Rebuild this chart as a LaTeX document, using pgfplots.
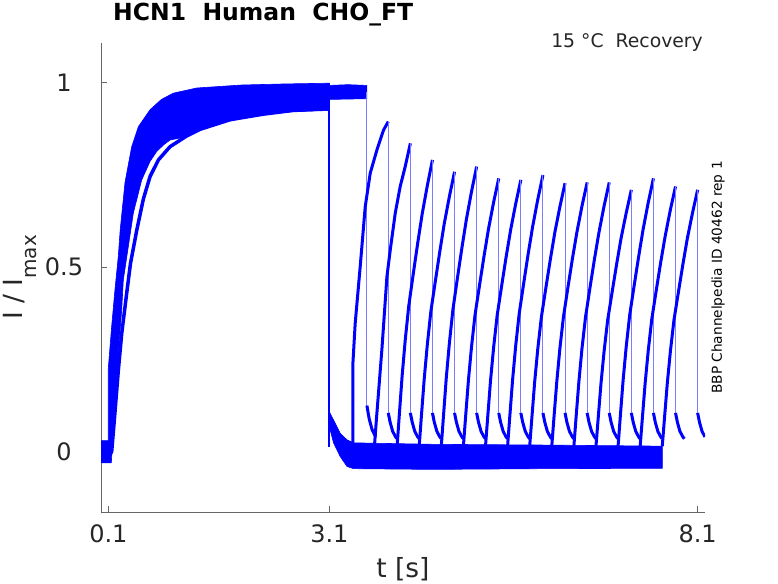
\documentclass[border=0pt]{standalone}
\usepackage{fontspec}
\setmainfont{DejaVu Sans}
\usepackage{pgfplots}
\pgfplotsset{compat=1.18}
\definecolor{axgray}{RGB}{102,102,102}
\definecolor{txt}{RGB}{38,38,38}
\definecolor{trace}{RGB}{0,0,255}
\definecolor{tracelight}{RGB}{125,125,255}
\begin{document}
\begin{tikzpicture}
\path[use as bounding box] (0pt,0pt) rectangle (778pt,583pt);
\begin{axis}[
  at={(101pt,71pt)}, anchor=south west,
  width=604pt, height=469pt, scale only axis,
  xmin=0, xmax=8.2, ymin=-0.1635, ymax=1.108,
  clip mode=individual,
  axis x line*=bottom, axis y line*=left,
  axis line style={axgray, line width=0.8pt},
  xtick={0.1,3.1,8.1}, ytick={0,0.5,1},
  xticklabels={0.1,3.1,8.1}, yticklabels={0,0.5,1},
  tick align=inside, major tick length=6pt,
  tick style={axgray, line width=0.8pt},
  /pgf/number format/assume math mode=true,
  tick label style={font=\fontsize{24}{24}\selectfont, text=txt},
  xticklabel style={anchor=base, yshift=-30.7pt},
  yticklabel style={anchor=center, xshift=-37pt},
  xlabel={t [s]},
  xlabel style={at={(axis description cs:0.5,0)}, anchor=base, yshift=-65.5pt, font=\fontsize{26.4}{26.4}\selectfont, text=txt},
  ylabel={I / I\raisebox{-14pt}{\fontsize{20}{20}\selectfont max}},
  ylabel style={at={(axis description cs:-0.101,0.5)}, anchor=south, rotate=0, font=\fontsize{26.4}{26.4}\selectfont, text=txt},
  title={HCN1\ \ Human\ \ CHO\_FT},
  title style={at={(axis description cs:0.0199,1.0348)}, anchor=base west, inner sep=0pt, font=\bfseries\fontsize{23.5}{23.5}\selectfont, text=black},
  every axis plot/.append style={no marks, line join=round},
]
% P1 fast band
\addplot[draw=trace, fill=trace, line width=0.6pt] coordinates {
(0,0.03) (0.099,0.03) (0.099,0.226) (0.145,0.34) (0.19,0.44) (0.235,0.53) (0.26,0.60) (0.326,0.73) (0.417,0.827) (0.507,0.881) (0.666,0.927) (0.82,0.955) (0.982,0.972) (1.30,0.986) (1.9,0.994) (2.5,0.997) (3.1,0.999)
(3.1,0.925) (2.6,0.922) (2.0,0.91) (1.753,0.90) (1.345,0.874) (1.118,0.852) (0.9375,0.845) (0.85,0.832) (0.757,0.814) (0.666,0.787) (0.553,0.737) (0.439,0.647) (0.303,0.466) (0.281,0.384) (0.235,0.267) (0.19,0.14) (0.159,0.03) (0.14,-0.03) (0,-0.03)};
% P1 slow traces
\addplot[trace, line width=3.5pt] coordinates {
(0.10,-0.015) (0.145,0.0) (0.181,0.086) (0.235,0.22) (0.281,0.32) (0.349,0.43) (0.40,0.51) (0.485,0.60) (0.575,0.685) (0.666,0.746) (0.779,0.791) (0.9375,0.827) (1.164,0.856) (1.345,0.874) (1.753,0.90) (2.2,0.915) (2.6,0.925) (3.1,0.93)};
% drop at end of P1
\addplot[trace, line width=2pt] coordinates {(3.1,0.999) (3.1,0.014)};
% deactivation and holding baseline band
\addplot[draw=trace, fill=trace, line width=0.6pt] coordinates {
(3.1,0.108) (3.157,0.086) (3.247,0.05) (3.34,0.032) (3.43,0.024) (4.5,0.02) (6.0,0.018) (7.62,0.015)
(7.62,-0.045) (6.0,-0.046) (4.5,-0.048) (3.43,-0.046) (3.34,-0.04) (3.247,-0.013) (3.157,0.024) (3.1,0.068)};
% k=0 trace: no interval
\addplot[draw=trace, fill=trace, line width=0.6pt] coordinates {
(3.1,0.993) (3.35,0.995) (3.61,0.993) (3.61,0.957) (3.1,0.955)};
\addplot[tracelight, line width=1pt] coordinates {(3.61,0.975) (3.61,0.12)};
\addplot[trace, line width=3pt] coordinates {(3.61,0.125) (3.64,0.09) (3.68,0.06) (3.73,0.04)};
% k=1
\addplot[trace, line width=3pt] coordinates {(3.42,0.02) (3.42,0.24) (3.451,0.348) (3.519,0.502) (3.587,0.664) (3.655,0.755) (3.746,0.818) (3.836,0.872) (3.90,0.895)};
\addplot[tracelight, line width=1pt] coordinates {(3.9,0.895) (3.9,0.10)};
\addplot[trace, line width=3pt] coordinates {(3.9,0.105) (3.925,0.08) (3.96,0.055) (4.0,0.04) (4.02,0.035)};
% k=2
\addplot[trace, line width=3pt] coordinates {(3.714,0.02) (3.74,0.09) (3.813,0.276) (3.882,0.475) (3.927,0.547) (3.995,0.647) (4.062,0.719) (4.130,0.773) (4.2,0.836)};
\addplot[tracelight, line width=1pt] coordinates {(4.2,0.836) (4.2,0.10)};
\addplot[trace, line width=3pt] coordinates {(4.2,0.105) (4.225,0.08) (4.26,0.055) (4.3,0.04) (4.32,0.035)};
% k=3
\addplot[trace, line width=3pt] coordinates {(4.02,0.015) (4.05,0.100) (4.088,0.205) (4.13,0.302) (4.178,0.395) (4.245,0.490) (4.30,0.566) (4.36,0.644) (4.43,0.721) (4.50,0.791)};
\addplot[tracelight, line width=1pt] coordinates {(4.5,0.791) (4.5,0.10)};
\addplot[trace, line width=3pt] coordinates {(4.5,0.105) (4.525,0.08) (4.56,0.055) (4.6,0.04) (4.62,0.035)};
% k=4
\addplot[trace, line width=3pt] coordinates {(4.32,0.015) (4.35,0.097) (4.388,0.197) (4.43,0.290) (4.478,0.380) (4.545,0.470) (4.60,0.543) (4.66,0.618) (4.73,0.692) (4.80,0.759)};
\addplot[tracelight, line width=1pt] coordinates {(4.8,0.759) (4.8,0.10)};
\addplot[trace, line width=3pt] coordinates {(4.8,0.105) (4.825,0.08) (4.86,0.055) (4.9,0.04) (4.92,0.035)};
% k=5
\addplot[trace, line width=3pt] coordinates {(4.62,0.015) (4.65,0.098) (4.688,0.201) (4.73,0.295) (4.778,0.386) (4.845,0.479) (4.90,0.553) (4.96,0.629) (5.03,0.705) (5.10,0.773)};
\addplot[tracelight, line width=1pt] coordinates {(5.1,0.773) (5.1,0.10)};
\addplot[trace, line width=3pt] coordinates {(5.1,0.105) (5.125,0.08) (5.16,0.055) (5.2,0.04) (5.22,0.035)};
% k=6
\addplot[trace, line width=3pt] coordinates {(4.92,0.015) (4.95,0.095) (4.988,0.193) (5.03,0.284) (5.078,0.371) (5.145,0.459) (5.20,0.530) (5.26,0.603) (5.33,0.676) (5.40,0.741)};
\addplot[tracelight, line width=1pt] coordinates {(5.4,0.741) (5.4,0.10)};
\addplot[trace, line width=3pt] coordinates {(5.4,0.105) (5.425,0.08) (5.46,0.055) (5.5,0.04) (5.52,0.035)};
% k=7
\addplot[trace, line width=3pt] coordinates {(5.22,0.015) (5.25,0.094) (5.288,0.192) (5.33,0.282) (5.378,0.369) (5.445,0.457) (5.50,0.528) (5.56,0.600) (5.63,0.672) (5.70,0.737)};
\addplot[tracelight, line width=1pt] coordinates {(5.7,0.737) (5.7,0.10)};
\addplot[trace, line width=3pt] coordinates {(5.7,0.105) (5.725,0.08) (5.76,0.055) (5.8,0.04) (5.82,0.035)};
% k=8
\addplot[trace, line width=3pt] coordinates {(5.52,0.015) (5.55,0.096) (5.588,0.195) (5.63,0.287) (5.678,0.375) (5.745,0.465) (5.80,0.537) (5.86,0.610) (5.93,0.684) (6.00,0.750)};
\addplot[tracelight, line width=1pt] coordinates {(6.0,0.750) (6.0,0.10)};
\addplot[trace, line width=3pt] coordinates {(6.0,0.105) (6.025,0.08) (6.06,0.055) (6.1,0.04) (6.12,0.035)};
% k=9
\addplot[trace, line width=3pt] coordinates {(5.82,0.015) (5.85,0.093) (5.888,0.190) (5.93,0.279) (5.978,0.364) (6.045,0.451) (6.10,0.521) (6.16,0.593) (6.23,0.664) (6.30,0.728)};
\addplot[tracelight, line width=1pt] coordinates {(6.3,0.728) (6.3,0.10)};
\addplot[trace, line width=3pt] coordinates {(6.3,0.105) (6.325,0.08) (6.36,0.055) (6.4,0.04) (6.42,0.035)};
% k=10
\addplot[trace, line width=3pt] coordinates {(6.12,0.015) (6.15,0.094) (6.188,0.190) (6.23,0.280) (6.278,0.365) (6.345,0.453) (6.40,0.523) (6.46,0.594) (6.53,0.666) (6.60,0.730)};
\addplot[tracelight, line width=1pt] coordinates {(6.6,0.730) (6.6,0.10)};
\addplot[trace, line width=3pt] coordinates {(6.6,0.105) (6.625,0.08) (6.66,0.055) (6.7,0.04) (6.72,0.035)};
% k=11
\addplot[trace, line width=3pt] coordinates {(6.42,0.015) (6.45,0.094) (6.488,0.190) (6.53,0.280) (6.578,0.365) (6.645,0.453) (6.70,0.523) (6.76,0.594) (6.83,0.666) (6.90,0.730)};
\addplot[tracelight, line width=1pt] coordinates {(6.9,0.730) (6.9,0.10)};
\addplot[trace, line width=3pt] coordinates {(6.9,0.105) (6.925,0.08) (6.96,0.055) (7.0,0.04) (7.02,0.035)};
% k=12
\addplot[trace, line width=3pt] coordinates {(6.72,0.015) (6.75,0.091) (6.788,0.185) (6.83,0.272) (6.878,0.356) (6.945,0.440) (7.00,0.508) (7.06,0.578) (7.13,0.647) (7.20,0.710)};
\addplot[tracelight, line width=1pt] coordinates {(7.2,0.710) (7.2,0.10)};
\addplot[trace, line width=3pt] coordinates {(7.2,0.105) (7.225,0.08) (7.26,0.055) (7.3,0.04) (7.32,0.035)};
% k=13
\addplot[trace, line width=3pt] coordinates {(7.02,0.015) (7.05,0.095) (7.088,0.193) (7.13,0.284) (7.178,0.371) (7.245,0.459) (7.30,0.530) (7.36,0.603) (7.43,0.676) (7.50,0.741)};
\addplot[tracelight, line width=1pt] coordinates {(7.5,0.741) (7.5,0.10)};
\addplot[trace, line width=3pt] coordinates {(7.5,0.105) (7.525,0.08) (7.56,0.055) (7.6,0.04) (7.62,0.035)};
% k=14
\addplot[trace, line width=3pt] coordinates {(7.32,0.015) (7.35,0.092) (7.388,0.187) (7.43,0.275) (7.478,0.360) (7.545,0.446) (7.60,0.515) (7.66,0.585) (7.73,0.656) (7.80,0.719)};
\addplot[tracelight, line width=1pt] coordinates {(7.8,0.719) (7.8,0.10)};
\addplot[trace, line width=3pt] coordinates {(7.8,0.105) (7.825,0.08) (7.86,0.055) (7.9,0.04) (7.92,0.035)};
% k=15
\addplot[trace, line width=3pt] coordinates {(7.62,0.015) (7.65,0.091) (7.688,0.185) (7.73,0.272) (7.778,0.356) (7.845,0.440) (7.90,0.508) (7.96,0.578) (8.03,0.647) (8.10,0.710)};
\addplot[tracelight, line width=1pt] coordinates {(8.1,0.710) (8.1,0.10)};
\addplot[trace, line width=3pt] coordinates {(8.1,0.105) (8.125,0.08) (8.16,0.055) (8.2,0.04)};
% annotations
\node[anchor=base east, inner sep=0pt, font=\fontsize{18.8}{18.8}\selectfont, text=txt] at (axis description cs:0.9967,0.9908) {15 °C\ \ Recovery};
\node[anchor=base, rotate=90, inner sep=0pt, font=\fontsize{13.7}{13.7}\selectfont, text=black] at (axis description cs:1.0281,0.5) {BBP Channelpedia ID 40462 rep 1};
\end{axis}
\end{tikzpicture}
\end{document}
